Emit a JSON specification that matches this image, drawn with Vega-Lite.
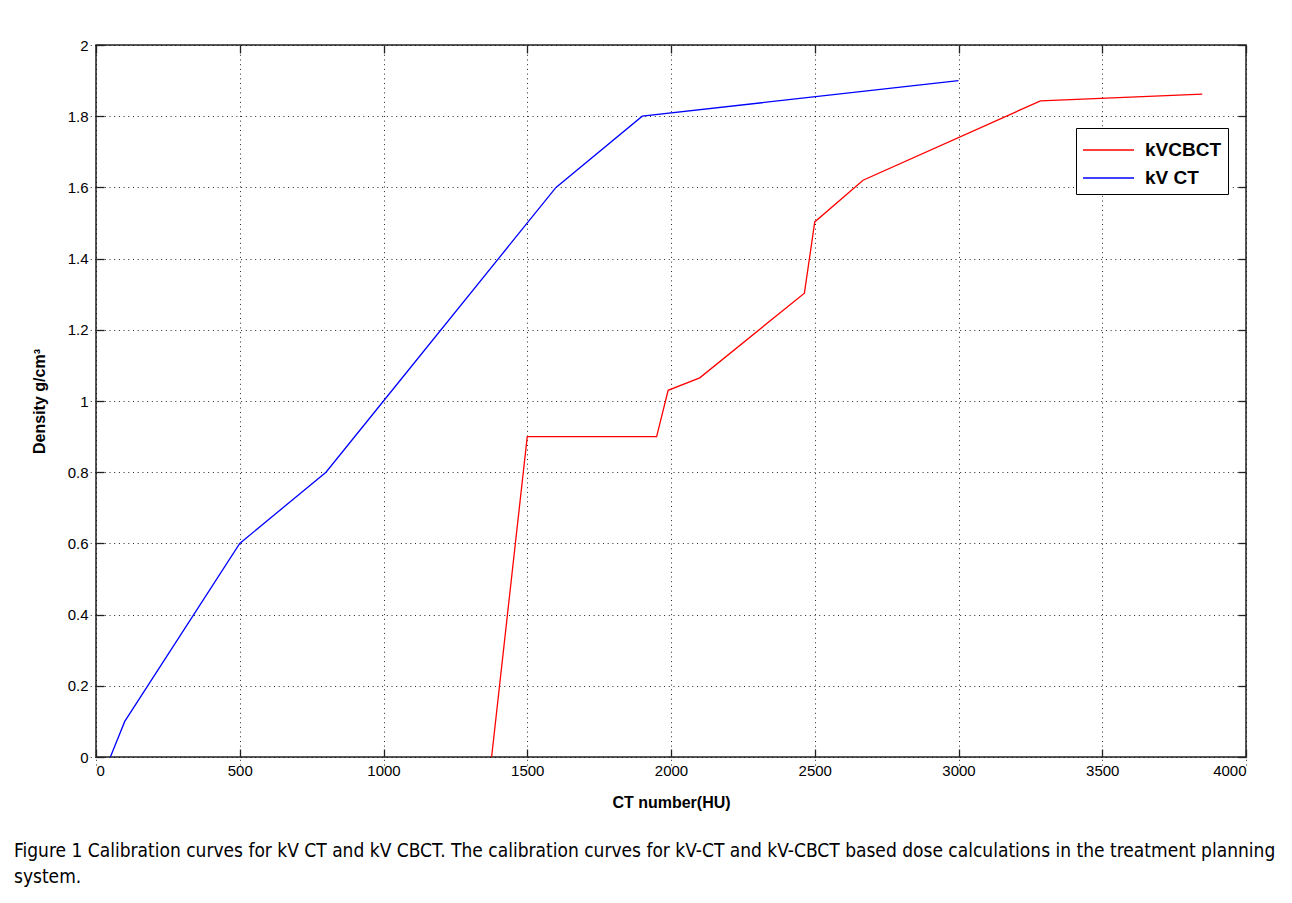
{
  "$schema": "https://vega.github.io/schema/vega-lite/v6.json",
  "width": 1150,
  "height": 712,
  "autosize": {"type": "none"},
  "padding": {"left": 96, "top": 45, "right": 46, "bottom": 146},
  "background": "white",
  "config": {
    "font": "Liberation Sans",
    "view": {"stroke": "#222222", "strokeWidth": 1.5},
    "axis": {
      "domain": false,
      "ticks": true,
      "tickColor": "#222222",
      "tickSize": 8,
      "tickWidth": 1.3,
      "offset": -8,
      "labelColor": "black",
      "labelFont": "Liberation Sans",
      "labelFontSize": 15,
      "titleFont": "Liberation Sans",
      "titleFontSize": 16,
      "titleFontWeight": "bold",
      "titleColor": "black",
      "gridColor": "black",
      "gridOpacity": 0.85,
      "gridDash": [1, 3.7],
      "gridWidth": 1
    }
  },
  "title": {
    "text": ["Figure 1 Calibration curves for kV CT and kV CBCT. The calibration curves for kV-CT and kV-CBCT based dose calculations in the treatment planning", "system."],
    "orient": "bottom",
    "anchor": "start",
    "frame": "group",
    "dx": -82,
    "offset": 32,
    "font": "DejaVu Sans Condensed",
    "fontSize": 19,
    "fontWeight": "normal",
    "color": "black",
    "lineHeight": 26
  },
  "data": {
    "values": [
      {"series": "kV CT", "i": 1, "hu": 50, "density": 0},
      {"series": "kV CT", "i": 2, "hu": 100, "density": 0.1},
      {"series": "kV CT", "i": 3, "hu": 500, "density": 0.6},
      {"series": "kV CT", "i": 4, "hu": 800, "density": 0.8},
      {"series": "kV CT", "i": 5, "hu": 1000, "density": 1.0},
      {"series": "kV CT", "i": 6, "hu": 1600, "density": 1.6},
      {"series": "kV CT", "i": 7, "hu": 1900, "density": 1.8},
      {"series": "kV CT", "i": 8, "hu": 3000, "density": 1.9},
      {"series": "kVCBCT", "i": 1, "hu": 1376, "density": 0},
      {"series": "kVCBCT", "i": 2, "hu": 1500, "density": 0.9},
      {"series": "kVCBCT", "i": 3, "hu": 1950, "density": 0.9},
      {"series": "kVCBCT", "i": 4, "hu": 1990, "density": 1.03},
      {"series": "kVCBCT", "i": 5, "hu": 2100, "density": 1.065},
      {"series": "kVCBCT", "i": 6, "hu": 2464, "density": 1.303},
      {"series": "kVCBCT", "i": 7, "hu": 2500, "density": 1.503},
      {"series": "kVCBCT", "i": 8, "hu": 2668, "density": 1.62},
      {"series": "kVCBCT", "i": 9, "hu": 3285, "density": 1.843},
      {"series": "kVCBCT", "i": 10, "hu": 3848, "density": 1.862}
    ]
  },
  "layer": [
    {
      "mark": {"type": "rule", "opacity": 0},
      "encoding": {
        "x": {
          "field": "hu", "type": "quantitative",
          "scale": {"domain": [0, 4000], "nice": false},
          "axis": {"orient": "top", "values": [0, 500, 1000, 1500, 2000, 2500, 3000, 3500, 4000], "labels": false, "grid": true, "title": null}
        },
        "y": {
          "field": "density", "type": "quantitative",
          "scale": {"domain": [0, 2], "nice": false},
          "axis": {"orient": "right", "values": [0, 0.2, 0.4, 0.6, 0.8, 1, 1.2, 1.4, 1.6, 1.8, 2], "labels": false, "grid": true, "title": null}
        }
      }
    },
    {
      "mark": {"type": "line", "strokeWidth": 1.3, "clip": true},
      "encoding": {
        "x": {
          "field": "hu", "type": "quantitative",
          "axis": {"orient": "bottom", "grid": false, "values": [0, 500, 1000, 1500, 2000, 2500, 3000, 3500, 4000], "format": "d", "title": "CT number(HU)", "labelPadding": 6, "titlePadding": 16}
        },
        "y": {
          "field": "density", "type": "quantitative",
          "axis": {"orient": "left", "grid": false, "values": [0, 0.2, 0.4, 0.6, 0.8, 1, 1.2, 1.4, 1.6, 1.8, 2], "format": "~g", "title": "Density g/cm³", "labelPadding": 8, "titlePadding": 20}
        },
        "color": {
          "field": "series", "type": "nominal",
          "scale": {"domain": ["kVCBCT", "kV CT"], "range": ["#ff0000", "#0000ff"]},
          "legend": {
            "title": null,
            "orient": "none",
            "legendX": 980,
            "legendY": 83,
            "symbolType": "M-1,0H2.4",
            "symbolSize": 900,
            "symbolStrokeWidth": 1.5,
            "labelFont": "Liberation Sans",
            "labelFontSize": 19,
            "labelFontWeight": "bold",
            "labelColor": "black",
            "labelOffset": 31,
            "strokeColor": "black",
            "fillColor": "white",
            "padding": 6,
            "rowPadding": 2
          }
        },
        "order": {"field": "i", "type": "quantitative"}
      }
    }
  ],
  "resolve": {"axis": {"x": "independent", "y": "independent"}}
}
